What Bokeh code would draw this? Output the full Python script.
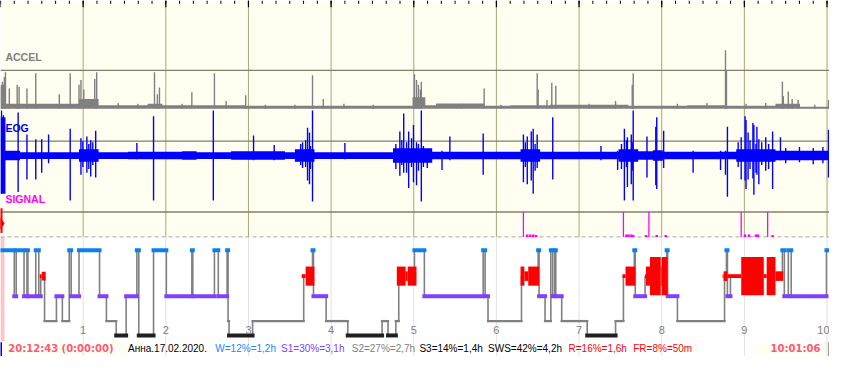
from bokeh.plotting import figure
from bokeh.models import Range1d
from bokeh.core.properties import value
from bokeh.embed import file_html
from bokeh.resources import INLINE

# ---------------- data (times in minutes from start) ----------------
REC_MIN = 601.8

# hypnogram: stage start times and stages
hyp_start = [0, 10.0, 11.4, 17.1, 19.2, 19.9, 25.6, 27.8, 29.2, 32.0,
             40.6, 44.9, 49.9, 51.3, 57.0, 71.9, 76.9, 84.0, 91.2, 99.0,
             100.4, 111.1, 120.4, 138.9, 139.6, 155.3, 158.1, 164.5, 165.2, 165.9,
             183.0, 220.1, 226.5, 227.2, 236.4, 252.1, 277.0, 281.3, 287.0, 289.1,
             300.5, 307.7, 350.4, 351.8, 353.9, 378.2, 390.3, 391.0, 395.3, 399.5,
             400.9, 402.4, 403.1, 407.4, 425.9, 446.5, 452.2, 460.1, 460.8, 467.9,
             483.6, 484.3, 491.4, 525.6, 527.0, 527.7, 529.9, 567.6, 569.0, 571.9,
             574.0, 599.6]
hyp_stage = ["W", "S1", "W", "S1", "W", "S1", "W", "S1", "R", "S2",
             "S1", "S2", "W", "S1", "W", "S1", "S2", "S3", "S1", "W",
             "S3", "W", "S1", "W", "S1", "W", "S1", "W", "S2", "S3",
             "S2", "R", "W", "S1", "S2", "S3", "S2", "S3", "S2", "R",
             "W", "S1", "W", "S1", "S2", "R", "W", "S1", "S2", "W",
             "S1", "W", "S1", "S2", "S3", "S2", "R", "W", "S1", "R",
             "W", "S1", "S2", "R", "W", "S1", "R", "W", "S1", "W",
             "S1", "W"]

# REM intensity blocks
rem_t0 = [28.5, 29.9, 218.6, 221.5, 287.7, 294.1, 295.6, 377.5, 380.3, 383.1,
          451.5, 453.7, 467.9, 468.6, 471.5, 479.3, 480.0, 524.2, 524.9, 527.7,
          537.7, 554.1, 556.2, 562.6]
rem_t1 = [29.9, 32.8, 221.5, 227.9, 294.1, 295.6, 302.0, 380.3, 383.1, 391.0,
          453.7, 460.8, 468.6, 471.5, 479.3, 480.0, 484.3, 524.9, 527.7, 537.7,
          554.1, 556.2, 562.6, 568.3]
rem_amp = [2, 4.5, 2, 10, 10, 5, 10, 10, 5, 10,
           2, 10, 2, 10, 20, 10, 20, 2, 5, 2,
           20, 2, 20, 5]

# ACCEL: background activity level per segment, and spikes
accel_seg_t = [0, 3.6, 57.0, 71.2, 106.8, 117.5, 178.0, 299.1, 308.4, 316.2,
               351.1, 370.3, 398.8, 455.8, 498.5, 527.0, 562.6, 580.4]
accel_seg_v = [25, 5, 10, 3.5, 5, 3.5, 3, 12, 3.5, 5.5,
               3, 3.5, 4, 3, 3.5, 3, 5, 2]
accel_spk_t = [0.7, 1.4, 2.8, 3.6, 6.4, 12.1, 13.5, 19.2, 25.6, 42.7,
               50.6, 57.0, 58.4, 60.5, 68.4, 69.8, 85.5, 99.7, 111.8, 113.9,
               115.4, 131.8, 138.9, 155.3, 163.8, 178.0, 192.3, 213.7, 226.5, 234.3,
               249.3, 270.6, 300.5, 302.0, 303.4, 304.8, 305.5, 334.7, 351.1, 363.2,
               389.6, 390.3, 396.7, 400.2, 403.1, 427.3, 446.5, 458.6, 459.3, 491.4,
               512.8, 526.3, 527.0, 541.2, 555.5, 567.6, 568.3, 571.9, 574.7, 579.0,
               591.1, 601.1]
accel_spk_v = [23, 28, 33, 38, 21, 25, 23, 21, 37, 15,
               37, 25, 30, 20, 31, 38, 6, 5, 38, 15,
               22, 5, 17, 37, 8, 14, 4, 4, 35, 10,
               5, 4, 36, 30, 25, 20, 28, 5, 21, 4,
               37, 20, 9, 27, 24, 5, 8, 25, 37, 5,
               6, 61, 40, 5, 6, 28, 13, 18, 10, 9,
               4, 9]

# EOG: background amplitude per segment, and spikes (up / down)
eog_seg_t = [0, 3.6, 14.2, 57.0, 71.2, 92.6, 131.8, 142.4, 167.4, 206.5,
             213.7, 227.9, 284.9, 313.4, 377.5, 391.7, 448.7, 462.9, 473.6, 480.7,
             534.1, 562.6]
eog_seg_v = [40, 5, 3.5, 6.5, 3.5, 4, 4.5, 3.5, 4.5, 3.5,
             6.5, 3.5, 7.5, 4, 6.5, 4, 6.5, 4.5, 5.5, 4,
             6.5, 5]
eog_spk_t = [0.7, 2.1, 12.8, 19.2, 25.6, 29.9, 34.9, 50.6, 58.4, 59.8,
             62.7, 64.1, 65.5, 67.0, 69.1, 99.0, 111.1, 154.5, 183.7, 198.7,
             217.9, 219.3, 221.5, 222.9, 224.3, 225.0, 226.5, 250.0, 287.0, 289.9,
             291.3, 292.7, 294.8, 296.3, 298.4, 299.8, 302.0, 303.4, 305.5, 307.0,
             309.8, 320.5, 326.2, 350.4, 379.6, 381.0, 382.4, 385.3, 386.7, 388.1,
             389.6, 400.9, 435.9, 448.0, 450.8, 452.9, 454.4, 455.1, 457.9, 458.6,
             459.3, 469.3, 475.7, 476.4, 481.4, 502.8, 522.7, 526.3, 527.7, 535.5,
             537.7, 540.5, 541.2, 542.7, 544.1, 546.2, 546.9, 548.4, 549.1, 550.5,
             552.6, 555.5, 557.6, 560.5, 566.2, 570.0, 580.0, 590.0, 597.0, 601.1]
eog_spk_up = [47, 42, 45, 22, 17, 17, 22, 28, 18, 15,
              20, 12, 16, 14, 26, 13, 41, 47, 21, 11,
              12, 14, 16, 29, 24, 10, 47, 13, 12, 25,
              16, 44, 14, 25, 18, 32, 14, 12, 47, 10,
              6, 5, 20, 23, 22, 14, 20, 25, 28, 12,
              22, 40, 10, 5, 12, 28, 16, 19, 22, 14,
              47, 20, 30, 40, 26, 5, 5, 5, 30, 14,
              19, 41, 37, 24, 16, 34, 32, 12, 30, 17,
              14, 19, 12, 25, 19, 8, 9, 8, 9, 27]
eog_spk_dn = [40, 38, 38, 25, 25, 18, 8, 47, 20, 12,
              18, 14, 22, 10, 23, 4, 47, 47, 5, 5,
              10, 13, 12, 26, 30, 14, 48, 4, 14, 21,
              10, 18, 18, 34, 12, 28, 31, 16, 48, 12,
              13, 15, 5, 20, 28, 12, 30, 26, 40, 16,
              13, 25, 5, 15, 14, 47, 12, 33, 30, 16,
              47, 23, 31, 35, 13, 18, 15, 20, 43, 12,
              25, 26, 35, 25, 14, 24, 41, 18, 20, 30,
              10, 16, 14, 35, 5, 8, 7, 9, 8, 23]

# SIGNAL events
sig_t = [379.6, 452.2, 470.7, 537.7, 556.9,
         382.4, 384.6, 386.7, 388.8, 454.4, 455.8, 457.9, 459.3, 468.6, 476.4,
         482.9, 540.5, 543.4, 548.4, 549.8, 560.5]
sig_v = [26, 26, 26, 26, 26,
         2.5, 2.5, 2.5, 2, 2.5, 2.5, 2.5, 2, 2, 2,
         2, 2.5, 2.5, 2.5, 2.5, 2]

hour_ticks = [1, 2, 3, 4, 5, 6, 7, 8, 9, 10]
hour_labels = ["1", "2", "3", "4", "5", "6", "7", "8", "9", "10"]

start_text = "20:12:43 (0:00:00)"
end_text = "10:01:06"
stat_texts = ["Анна.17.02.2020.", "W=12%=1,2h", "S1=30%=3,1h", "S2=27%=2,7h",
              "S3=14%=1,4h", "SWS=42%=4,2h", "R=16%=1,6h", "FR=8%=50m"]

# ---------------- layout / style ----------------
W, H = 829, 356
ROWS = 372.0          # vertical layout units
PX_PER_H = 84.25      # horizontal layout units per hour
X_END = REC_MIN / 60.0

def hx(px):
    return px / PX_PER_H

CREAM = "#FFFEF0"
OLIVE = "#A8A878"
HLINE = "#80806C"
ACC_COL = "#808080"
EOG_COL = "#0000FF"
SIG_COL = "#FF00FF"

ACCEL_LINE, ACCEL_BASE = 73, 113
EOG_LINE, EOG_MID = 147, 162
SIG_LINE, SIG_BASE = 221, 247
HYP_BOTTOM = 356
STAGE_ROW = {"W": 261, "R": 288, "S1": 309, "S2": 335, "S3": 350}
STAGE_COL = {"W": "#0A80F0", "S1": "#8040FF", "S2": "#808080", "S3": "#202020"}
STAGE_LW = {"W": 4, "S1": 4, "S2": 2.3, "S3": 4}

FONT = "Liberation Sans"
BFONT = "DejaVu Sans"

p = figure(width=W, height=H, x_range=Range1d(0, X_END), y_range=Range1d(ROWS, 0),
           output_backend="svg", toolbar_location=None,
           x_axis_location=None, y_axis_location=None, min_border=0,
           background_fill_color="white", border_fill_color="white",
           outline_line_color=None)
p.grid.visible = False
p.extra_y_ranges = {
    "accel": Range1d(start=ACCEL_BASE - ROWS, end=ACCEL_BASE),
    "eog": Range1d(start=EOG_MID - ROWS, end=EOG_MID),
    "sig": Range1d(start=SIG_BASE - ROWS, end=SIG_BASE),
}

# backgrounds
p.quad(left=[0], right=[X_END], top=[0], bottom=[SIG_BASE], color=CREAM, line_color=None)
p.quad(left=[0], right=[hx(4)], top=[SIG_BASE], bottom=[HYP_BOTTOM], color="#FFC4C4", line_color=None)
p.quad(left=[0, hx(770)], right=[hx(128), X_END], top=[HYP_BOTTOM + 1, HYP_BOTTOM + 1],
       bottom=[ROWS, ROWS], color=CREAM, line_color=None)

# hour grid lines
p.segment(x0=hour_ticks, y0=[0] * 10, x1=hour_ticks, y1=[SIG_BASE] * 10, line_color=OLIVE, line_width=1)
p.segment(x0=hour_ticks, y0=[SIG_BASE] * 10, x1=hour_ticks, y1=[ROWS] * 10, line_color="#E2E2E2", line_width=1)

# top ticks
minor = [m / 60.0 for m in range(0, 610, 10)]
p.segment(x0=minor, y0=[0] * len(minor), x1=minor, y1=[3.5] * len(minor), line_color="black", line_width=1)
major = [0] + hour_ticks
p.segment(x0=major, y0=[0] * len(major), x1=major, y1=[7] * len(major), line_color="black", line_width=1.2)

# panel separator lines
for r in (ACCEL_LINE, EOG_LINE, SIG_LINE):
    p.segment(x0=[0], y0=[r], x1=[X_END], y1=[r], line_color=HLINE, line_width=1.3)
p.segment(x0=[0], y0=[SIG_BASE], x1=[X_END], y1=[SIG_BASE], line_color="#A8A8A8",
          line_width=1, line_dash="4 3")


def steps(ts, vs):
    xs, ys = [], []
    ends = ts[1:] + [REC_MIN]
    for a, b, v in zip(ts, ends, vs):
        xs += [a / 60.0, b / 60.0]
        ys += [v, v]
    return xs, ys

# ACCEL
ax, ay = steps(accel_seg_t, accel_seg_v)
p.varea(x=ax, y1=[0] * len(ax), y2=ay, fill_color=ACC_COL, y_range_name="accel")
at = [t / 60.0 for t in accel_spk_t]
p.segment(x0=at, y0=[0] * len(at), x1=at, y1=accel_spk_v, line_color=ACC_COL,
          line_width=1.4, y_range_name="accel")

# EOG
ex, ey = steps(eog_seg_t, eog_seg_v)
p.varea(x=ex, y1=[-v for v in ey], y2=ey, fill_color=EOG_COL, y_range_name="eog")
et = [t / 60.0 for t in eog_spk_t]
p.segment(x0=et, y0=[-v for v in eog_spk_dn], x1=et, y1=eog_spk_up, line_color=EOG_COL,
          line_width=1.4, y_range_name="eog")

# SIGNAL
st = [t / 60.0 for t in sig_t]
p.segment(x0=st, y0=[0] * len(st), x1=st, y1=sig_v, line_color=SIG_COL,
          line_width=[1.3] * 5 + [2.5] * (len(st) - 5), y_range_name="sig")

# start marker
p.segment(x0=[0], y0=[217], x1=[0], y1=[243], line_color="red", line_width=4)
p.scatter(x=[0], y=[233], marker="diamond", size=11, color="red")

# panel titles
p.text(x=[hx(5)], y=[59], text=["ACCEL"], text_color=ACC_COL, text_font=value(FONT),
       text_font_style="bold", text_font_size="10.5px", text_baseline="middle")
p.text(x=[hx(5)], y=[133], text=["EOG"], text_color="#0000E0", text_font=value(FONT),
       text_font_style="bold", text_font_size="10.5px", text_baseline="middle")
p.text(x=[hx(5)], y=[207], text=["SIGNAL"], text_color=SIG_COL, text_font=value(FONT),
       text_font_style="bold", text_font_size="10.5px", text_baseline="middle")

# hypnogram
ends = hyp_start[1:] + [REC_MIN]
vx, vy0, vy1 = [], [], []
for i in range(1, len(hyp_start)):
    vx.append(hyp_start[i] / 60.0)
    vy0.append(STAGE_ROW[hyp_stage[i - 1]])
    vy1.append(STAGE_ROW[hyp_stage[i]])
p.segment(x0=vx, y0=vy0, x1=vx, y1=vy1, line_color="#808080", line_width=1.6)

for stg in ["S2", "S3", "S1", "W"]:
    idx = [i for i, s in enumerate(hyp_stage) if s == stg]
    x0 = [hyp_start[i] / 60.0 for i in idx]
    x1 = [ends[i] / 60.0 for i in idx]
    yy = [STAGE_ROW[stg]] * len(idx)
    p.segment(x0=x0, y0=yy, x1=x1, y1=yy, line_color=STAGE_COL[stg],
              line_width=STAGE_LW[stg], line_cap="square")

p.quad(left=[t / 60.0 for t in rem_t0], right=[t / 60.0 for t in rem_t1],
       top=[STAGE_ROW["R"] - a for a in rem_amp], bottom=[STAGE_ROW["R"] + a for a in rem_amp],
       color="#FF0000", line_color=None)

# hour labels (last one kept inside the frame)
p.text(x=hour_ticks[:-1], y=[344] * 9, text=hour_labels[:-1], text_color="#808080",
       text_font=value(FONT), text_font_size="11px", text_align="center", text_baseline="middle")
p.text(x=[X_END], y=[344], text=[hour_labels[-1]], text_color="#808080",
       text_font=value(FONT), text_font_size="11px", text_align="right", text_baseline="middle")

# bottom strip
p.segment(x0=[0], y0=[HYP_BOTTOM + 1], x1=[0], y1=[ROWS], line_color="#0000FF", line_width=3)
p.segment(x0=[X_END], y0=[HYP_BOTTOM + 1], x1=[X_END], y1=[ROWS], line_color="#404040", line_width=2)
p.text(x=[hx(8)], y=[364], text=[start_text], text_color="#FF5878", text_font=value(BFONT),
       text_font_style="bold", text_font_size="10px", text_baseline="middle")
p.text(x=[hx(785)], y=[364], text=[end_text], text_color="#FF5878", text_font=value(BFONT),
       text_font_style="bold", text_font_size="10px", text_baseline="middle")
stat_x = [130, 219, 286, 358, 427, 497, 579, 645]
stat_col = ["#000000", "#1E88FF", "#8040FF", "#808080", "#000000", "#000000", "#FF0000", "#FF0000"]
p.text(x=[hx(v) for v in stat_x], y=[364] * len(stat_texts), text=stat_texts,
       text_color=stat_col, text_font=value(FONT), text_font_size="10px",
       text_baseline="middle")

open("out.html", "w").write(file_html(p, INLINE))
